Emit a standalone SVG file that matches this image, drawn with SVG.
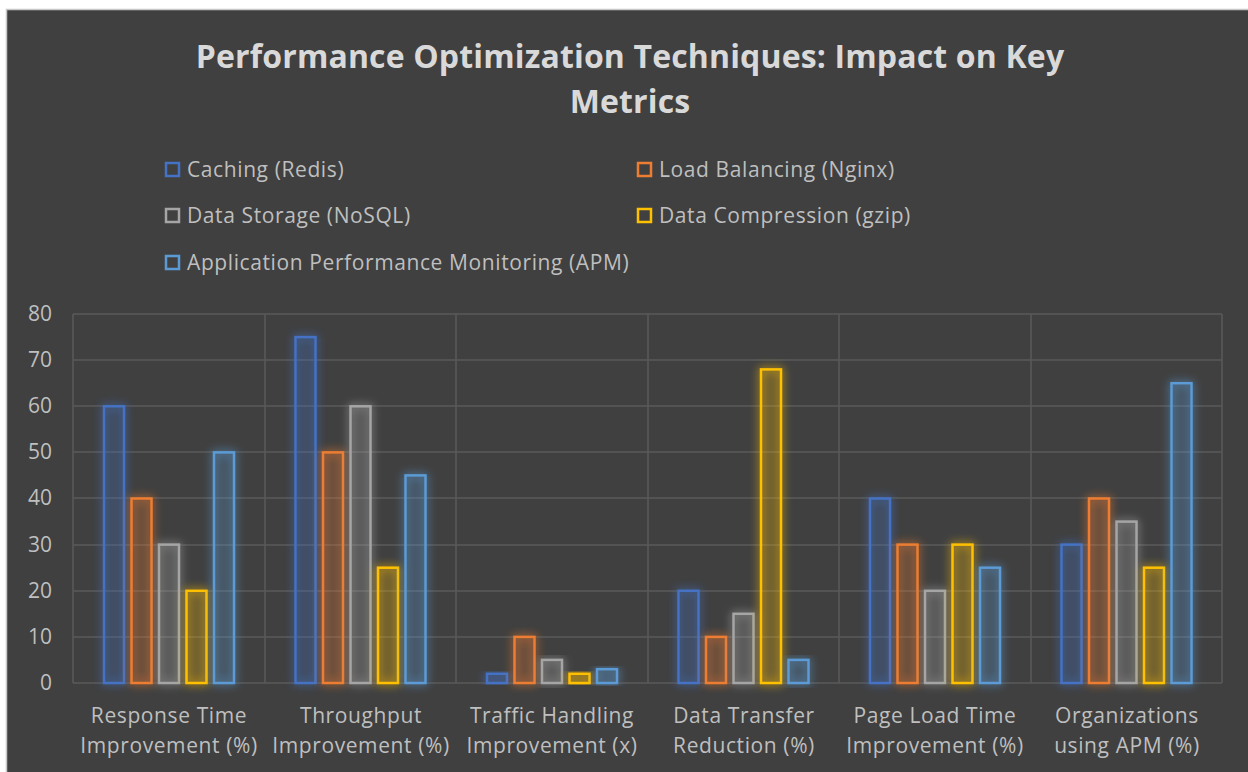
<svg xmlns="http://www.w3.org/2000/svg" width="1248" height="772" viewBox="0 0 1248 772">
<defs>
<filter id="glow" x="-60%" y="-20%" width="220%" height="140%">
<feGaussianBlur in="SourceGraphic" stdDeviation="5" result="b"/>
<feComponentTransfer in="b" result="bb"><feFuncA type="linear" slope="1.1"/></feComponentTransfer>
<feMerge><feMergeNode in="bb"/><feMergeNode in="SourceGraphic"/></feMerge>
</filter>
</defs>
<style>
.grid{stroke:#595959;stroke-width:1.5;fill:none}
.bar{stroke-width:2.5;filter:url(#glow)}
.s1{stroke:#4472C4;fill:rgba(68,114,196,0.12)}
.s2{stroke:#ED7D31;fill:rgba(237,125,49,0.12)}
.s3{stroke:#A5A5A5;fill:rgba(165,165,165,0.12)}
.s4{stroke:#FFC000;fill:rgba(255,192,0,0.12)}
.s5{stroke:#5B9BD5;fill:rgba(91,155,213,0.12)}
.lm{stroke-width:2.5;fill:none}
.title{font-family:"Open Sans","Liberation Sans",sans-serif;font-weight:bold;font-size:32px;letter-spacing:0.15px;fill:#d9d9d9;text-anchor:middle}
.leg{font-family:"Open Sans","Liberation Sans",sans-serif;font-size:21px;letter-spacing:0.6px;fill:#bfbfbf}
.ax{font-family:"Open Sans","Liberation Sans",sans-serif;font-size:21px;fill:#bfbfbf;text-anchor:end}
.cat{font-family:"Open Sans","Liberation Sans",sans-serif;font-size:21px;letter-spacing:0.6px;fill:#bfbfbf;text-anchor:middle}
</style>
<rect x="0" y="0" width="1248" height="772" fill="#ffffff"/>
<rect x="6.5" y="9.5" width="1245" height="770" fill="#404040" stroke="#c8c8c8" stroke-width="1.5"/>
<g id="title">
<text class="title" x="630" y="68">Performance Optimization Techniques: Impact on Key</text>
<text class="title" x="630" y="113">Metrics</text>
</g>
<g id="legend">
<rect class="lm s1" x="166" y="163" width="13" height="13"/><text class="leg" x="187" y="177">Caching (Redis)</text>
<rect class="lm s2" x="638" y="163" width="13" height="13"/><text class="leg" x="659" y="177">Load Balancing (Nginx)</text>
<rect class="lm s3" x="166" y="209" width="13" height="13"/><text class="leg" x="187" y="223">Data Storage (NoSQL)</text>
<rect class="lm s4" x="638" y="209" width="13" height="13"/><text class="leg" x="659" y="223">Data Compression (gzip)</text>
<rect class="lm s5" x="166" y="256" width="13" height="13"/><text class="leg" x="187" y="270">Application Performance Monitoring (APM)</text>
</g>
<g id="grid">
<path class="grid" d="M73 314H1222M73 360H1222M73 406H1222M73 452H1222M73 498H1222M73 545H1222M73 591H1222M73 637H1222M73 683H1222"/>
<path class="grid" d="M73 314V683M265 314V683M456 314V683M648 314V683M839 314V683M1031 314V683M1222 314V683"/>
</g>
<g id="axis">
<text class="ax" x="52" y="321">80</text>
<text class="ax" x="52" y="367">70</text>
<text class="ax" x="52" y="413">60</text>
<text class="ax" x="52" y="459">50</text>
<text class="ax" x="52" y="505">40</text>
<text class="ax" x="52" y="552">30</text>
<text class="ax" x="52" y="598">20</text>
<text class="ax" x="52" y="644">10</text>
<text class="ax" x="52" y="690">0</text>
</g>
<g id="bars">
<rect class="bar s1" x="104" y="406.3" width="20" height="276.7"/>
<rect class="bar s2" x="131.5" y="498.5" width="20" height="184.5"/>
<rect class="bar s3" x="159" y="544.6" width="20" height="138.4"/>
<rect class="bar s4" x="186.5" y="590.8" width="20" height="92.2"/>
<rect class="bar s5" x="214" y="452.4" width="20" height="230.6"/>

<rect class="bar s1" x="295.5" y="337.1" width="20" height="345.9"/>
<rect class="bar s2" x="323" y="452.4" width="20" height="230.6"/>
<rect class="bar s3" x="350.5" y="406.3" width="20" height="276.7"/>
<rect class="bar s4" x="378" y="567.7" width="20" height="115.3"/>
<rect class="bar s5" x="405.5" y="475.4" width="20" height="207.6"/>

<rect class="bar s1" x="487" y="673.8" width="20" height="9.2"/>
<rect class="bar s2" x="514.5" y="636.9" width="20" height="46.1"/>
<rect class="bar s3" x="542" y="659.9" width="20" height="23.1"/>
<rect class="bar s4" x="569.5" y="673.8" width="20" height="9.2"/>
<rect class="bar s5" x="597" y="669.2" width="20" height="13.8"/>

<rect class="bar s1" x="678.5" y="590.8" width="20" height="92.2"/>
<rect class="bar s2" x="706" y="636.9" width="20" height="46.1"/>
<rect class="bar s3" x="733.5" y="613.8" width="20" height="69.2"/>
<rect class="bar s4" x="761" y="369.4" width="20" height="313.6"/>
<rect class="bar s5" x="788.5" y="659.9" width="20" height="23.1"/>

<rect class="bar s1" x="870" y="498.5" width="20" height="184.5"/>
<rect class="bar s2" x="897.5" y="544.6" width="20" height="138.4"/>
<rect class="bar s3" x="925" y="590.8" width="20" height="92.2"/>
<rect class="bar s4" x="952.5" y="544.6" width="20" height="138.4"/>
<rect class="bar s5" x="980" y="567.7" width="20" height="115.3"/>

<rect class="bar s1" x="1061.5" y="544.6" width="20" height="138.4"/>
<rect class="bar s2" x="1089" y="498.5" width="20" height="184.5"/>
<rect class="bar s3" x="1116.5" y="521.6" width="20" height="161.4"/>
<rect class="bar s4" x="1144" y="567.7" width="20" height="115.3"/>
<rect class="bar s5" x="1171.5" y="383.2" width="20" height="299.8"/>
</g>
<g id="categories">
<text class="cat" x="169" y="723">Response Time</text><text class="cat" x="169" y="753">Improvement (%)</text>
<text class="cat" x="361" y="723">Throughput</text><text class="cat" x="361" y="753">Improvement (%)</text>
<text class="cat" x="552" y="723">Traffic Handling</text><text class="cat" x="552" y="753">Improvement (x)</text>
<text class="cat" x="744" y="723">Data Transfer</text><text class="cat" x="744" y="753">Reduction (%)</text>
<text class="cat" x="935" y="723">Page Load Time</text><text class="cat" x="935" y="753">Improvement (%)</text>
<text class="cat" x="1127" y="723">Organizations</text><text class="cat" x="1127" y="753">using APM (%)</text>
</g>
</svg>
